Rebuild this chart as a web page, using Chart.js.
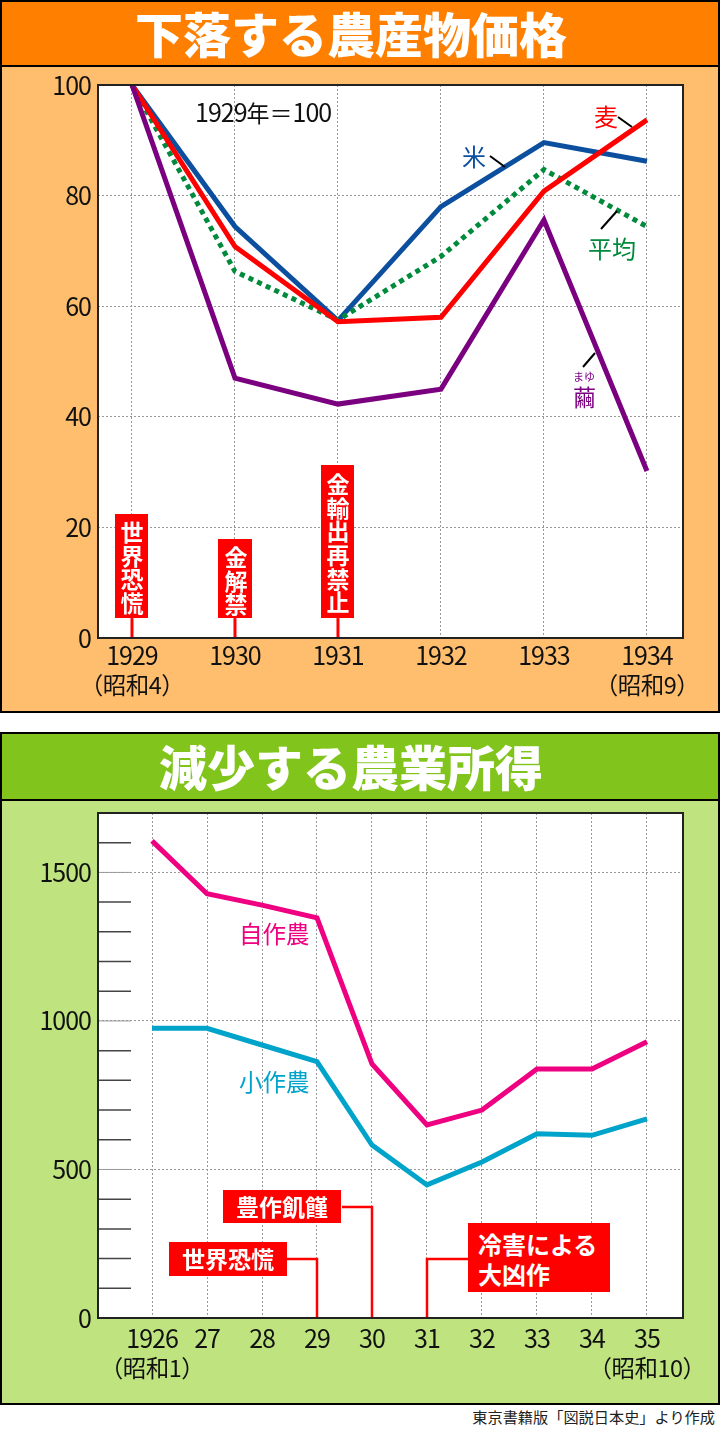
<!doctype html>
<html lang="ja">
<head>
<meta charset="utf-8">
<title>下落する農産物価格 / 減少する農業所得</title>
<script src="https://cdn.jsdelivr.net/npm/chart.js@4"></script>
<style>
body { margin:0; background:#fff; font-family:"Noto Sans CJK JP",sans-serif; }
#page { position:relative; width:720px; height:1429px; overflow:hidden; }
.panel { position:absolute; left:0; width:716px; border:2px solid #000; }
.title { position:absolute; color:#fff; font-weight:900; font-size:48px; text-align:center; padding-right:18px; box-sizing:border-box; border-bottom:2px solid #000; }
canvas { position:absolute; left:0; top:0; }
.t { position:absolute; white-space:nowrap; line-height:1; }
.n { font-size:25px; letter-spacing:-1px; }
.flag { position:absolute; background:#f00; color:#fff; font-weight:700; font-size:23px; text-align:center; box-sizing:border-box; }
.v { writing-mode:vertical-rl; line-height:33px; letter-spacing:0.6px; padding-top:5px; }
.h { line-height:33px; }
</style>
</head>
<body>
<div id="page">
  <div class="panel" style="top:0;height:709px;background:#ffbe6e"></div>
  <div class="panel" style="top:732px;height:669px;background:#bfe47f"></div>
  <canvas id="priceChart" width="720" height="713"></canvas>
  <canvas id="incomeChart" width="720" height="673" style="top:732px"></canvas>

  <div class="title" style="top:2px;left:2px;right:2px;height:65px;line-height:60px;background:#ff8000">下落する農産物価格</div>
  <div class="title" style="top:734px;left:2px;right:2px;height:67px;line-height:62px;background:#80c41c">減少する農業所得</div>

  <div class="t" style="left:195px;top:99px;font-size:23px;color:#111"><span class="n">1929</span>年＝<span class="n">100</span></div>
  <div class="t" style="left:594px;top:104px;font-size:24px;color:#f00">麦</div>
  <div class="t" style="left:462px;top:144px;font-size:24px;color:#0b4f9e">米</div>
  <div class="t" style="left:588px;top:236px;font-size:24px;color:#008a3c">平均</div>
  <div class="t" style="left:573px;top:371px;font-size:11px;color:#7a0080">まゆ</div>
  <div class="t" style="left:573px;top:385px;font-size:23px;color:#7a0080">繭</div>

  <div class="flag v" style="left:115px;top:514px;width:33px;height:104px">世界恐慌</div>
  <div class="flag v" style="left:218px;top:539px;width:34px;height:79px">金解禁</div>
  <div class="flag v" style="left:321px;top:465px;width:33px;height:153px">金輸出再禁止</div>

  <div class="t" style="left:239px;top:922px;font-size:23.5px;color:#ee0080">自作農</div>
  <div class="t" style="left:239px;top:1070px;font-size:23.5px;color:#00a3c9">小作農</div>

  <div class="flag h" style="left:223px;top:1190px;width:118px;height:33px">豊作飢饉</div>
  <div class="flag h" style="left:169px;top:1242px;width:118px;height:34px">世界恐慌</div>
  <div class="flag" style="left:468px;top:1223px;width:142px;height:69px;padding:6px 0 0 10px;text-align:left;font-size:24px;line-height:30px">冷害による<br>大凶作</div>

  <div class="t" style="right:5px;top:1409px;font-size:15.2px;color:#222">東京書籍版「図説日本史」より作成</div>
</div>

<script>
var priceYears = [1929, 1930, 1931, 1932, 1933, 1934];
var priceLabels = ["1929", "1930", "1931", "1932", "1933", "1934"];
var priceEras = ["（昭和4）", "", "", "", "", "（昭和9）"];
var priceTicks = [0, 20, 40, 60, 80, 100];
var rice = [100, 74.4, 57.4, 78, 89.6, 86.2];
var wheat = [100, 70.8, 57.2, 58, 80.8, 93.7];
var average = [100, 66.3, 57.5, 69, 84.7, 74.4];
var cocoon = [100, 47, 42.3, 45, 75.6, 30.2];
var priceEvents = [1929, 1930, 1931];

var incomeYears = [1926, 1927, 1928, 1929, 1930, 1931, 1932, 1933, 1934, 1935];
var incomeLabels = ["1926", "27", "28", "29", "30", "31", "32", "33", "34", "35"];
var incomeEras = ["（昭和1）", "", "", "", "", "", "", "", "", "（昭和10）"];
var incomeTicks = [0, 100, 200, 300, 400, 500, 600, 700, 800, 900, 1000, 1100, 1200, 1300, 1400, 1500, 1600];
var owner = [1606, 1428, 1390, 1347, 855, 650, 700, 838, 838, 930];
var tenant = [975, 975, 919, 863, 582, 448, 525, 620, 615, 670];
var incomeEvents = [1929, 1930, 1931];
var incomeEventLevels = [199, 374, 199];

var tickFont = { family: '"Noto Sans CJK JP"', size: 25 };
var dots = "#999";

function points(xs, ys) {
  return xs.map(function (x, i) { return { x: x, y: ys[i] }; });
}

function line(label, xs, ys, color, dash) {
  return {
    label: label, data: points(xs, ys), borderColor: color, borderWidth: 5,
    borderDash: dash || [], pointRadius: 0, tension: 0, borderJoinStyle: "miter"
  };
}

// white plot background and the frame round it
var plotBox = {
  id: "plotBox",
  beforeDraw: function (c) {
    var a = c.chartArea;
    c.ctx.fillStyle = "#fff";
    c.ctx.fillRect(a.left, a.top, a.width, a.height);
    c.ctx.letterSpacing = "-1px"; // the numbers in the picture are narrow
  },
  afterDraw: function (c) {
    var a = c.chartArea;
    c.ctx.strokeStyle = "#222";
    c.ctx.lineWidth = 2;
    c.ctx.strokeRect(a.left, a.top, a.width, a.height);
  }
};

function seg(ctx, color, w, pts) {
  ctx.save();
  ctx.strokeStyle = color;
  ctx.lineWidth = w;
  ctx.beginPath();
  pts.forEach(function (p, i) { if (i) ctx.lineTo(p[0], p[1]); else ctx.moveTo(p[0], p[1]); });
  ctx.stroke();
  ctx.restore();
}

// second line under the year labels, smaller than the numbers
function drawEras(c, xs, eras, py) {
  var ctx = c.ctx;
  ctx.save();
  ctx.letterSpacing = "-0.5px";
  ctx.font = '23.5px "Noto Sans CJK JP"';
  ctx.fillStyle = "#111";
  ctx.textAlign = "center";
  ctx.textBaseline = "middle";
  xs.forEach(function (x, i) {
    if (eras[i]) ctx.fillText(eras[i], c.scales.x.getPixelForValue(x), py);
  });
  ctx.restore();
}

var priceMarks = {
  id: "priceMarks",
  afterDatasetsDraw: function (c) {
    var ctx = c.ctx, s = c.scales;
    priceEvents.forEach(function (yr) {
      var px = s.x.getPixelForValue(yr);
      seg(ctx, "#f00", 3, [[px, s.y.getPixelForValue(3.6)], [px, s.y.getPixelForValue(0)]]);
    });
    // leader lines from the names to their series
    seg(ctx, "#000", 2, [[618, 117], [632, 127]]);
    seg(ctx, "#000", 2, [[490, 156], [505, 167]]);
    seg(ctx, "#000", 2, [[601, 229], [617, 211]]);
    seg(ctx, "#000", 2, [[583, 367], [595, 353]]);
    drawEras(c, priceYears, priceEras, 685);
  }
};

var incomeMarks = {
  id: "incomeMarks",
  beforeDatasetsDraw: function (c) {
    var ctx = c.ctx, s = c.scales, a = c.chartArea;
    incomeTicks.forEach(function (v) {
      if (v === 0) return;
      var py = s.y.getPixelForValue(v);
      seg(ctx, v % 500 ? "#444" : "#999", v % 500 ? 1.5 : 1, [[a.left, py], [a.left + 33, py]]);
    });
  },
  afterDatasetsDraw: function (c) {
    var ctx = c.ctx, s = c.scales;
    incomeEvents.forEach(function (yr, i) {
      var px = s.x.getPixelForValue(yr), py = s.y.getPixelForValue(incomeEventLevels[i]);
      var boxEdge = yr === 1931 ? px + 42 : px - 30;
      seg(ctx, "#f00", 2.5, [[boxEdge, py], [px, py], [px, s.y.getPixelForValue(0)]]);
    });
    drawEras(c, incomeYears, incomeEras, 636);
  }
};

function makeChart(id, datasets, xs, xr, labels, yr, ticks, showTick, showGrid, pad, xHeight, xPad, plugin) {
  return new Chart(document.getElementById(id), {
    type: "line",
    data: { datasets: datasets },
    options: {
      responsive: false,
      animation: false,
      layout: { padding: pad },
      plugins: { legend: { display: false }, tooltip: { enabled: false } },
      scales: {
        x: {
          type: "linear", min: xr[0], max: xr[1],
          afterBuildTicks: function (s) { s.ticks = xs.map(function (v) { return { value: v }; }); },
          afterFit: function (s) { s.height = xHeight; },
          border: { display: false, dash: [2, 2] },
          grid: { color: dots, lineWidth: 1, drawTicks: false },
          ticks: {
            color: "#111", font: tickFont, autoSkip: false, maxRotation: 0, padding: xPad,
            callback: function (v, i) { return labels[i]; }
          }
        },
        y: {
          min: yr[0], max: yr[1],
          afterBuildTicks: function (s) { s.ticks = ticks.map(function (v) { return { value: v }; }); },
          afterFit: function (s) { s.width = 98; },
          border: { display: false, dash: [2, 2] },
          grid: {
            color: function (ctx) { return showGrid(ctx.tick.value) ? dots : "rgba(0,0,0,0)"; },
            lineWidth: 1, drawTicks: false
          },
          ticks: {
            color: "#111", font: tickFont, autoSkip: false, padding: 7,
            callback: function (v) { return showTick(v) ? String(v) : ""; }
          }
        }
      }
    },
    plugins: [plotBox, plugin]
  });
}

makeChart("priceChart",
  [
    line("繭", priceYears, cocoon, "#7a0080"),
    line("麦", priceYears, wheat, "#ff0000"),
    line("平均", priceYears, average, "#008a3c", [5, 4.5]),
    line("米", priceYears, rice, "#0b4f9e")
  ],
  priceYears, [1928.67, 1934.35], priceLabels,
  [0, 100], priceTicks,
  function () { return true; }, function () { return true; },
  { left: 0, top: 85, right: 37, bottom: 0 }, 75, 2, priceMarks);

makeChart("incomeChart",
  [
    line("自作農", incomeYears, owner, "#ee0080"),
    line("小作農", incomeYears, tenant, "#00a3c9")
  ],
  incomeYears, [1925.018, 1935.655], incomeLabels,
  [0, 1700], incomeTicks,
  function (v) { return v % 500 === 0; }, function (v) { return v % 500 === 0 && v > 0; },
  { left: 0, top: 81, right: 37, bottom: 0 }, 87, 5, incomeMarks);
</script>
</body>
</html>
